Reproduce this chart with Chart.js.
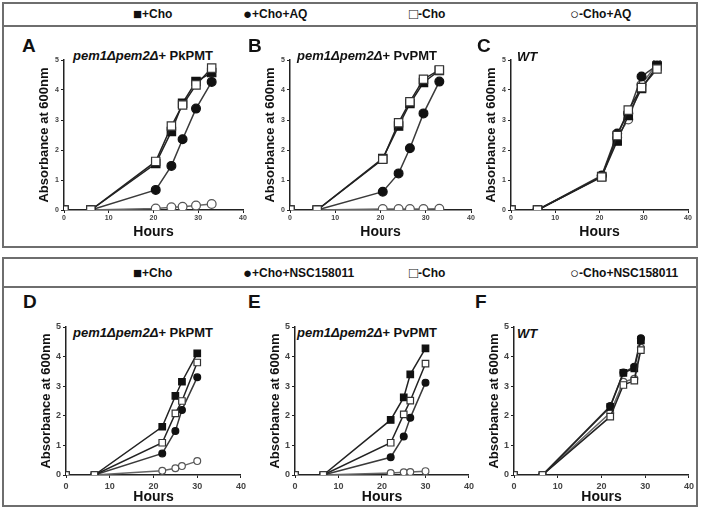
<!DOCTYPE html>
<html>
<head>
<meta charset="utf-8">
<script src="https://cdn.jsdelivr.net/npm/chart.js@4.4.1/dist/chart.umd.min.js"></script>
<style>
  body { margin: 0; width: 703px; height: 511px; position: relative; background: #fff; overflow: hidden;
         font-family: "Liberation Sans", Arial, sans-serif; color: #111; }
  .caixa { position: absolute; left: 2px; width: 696px; border: 2px solid #6e6e6e; box-sizing: border-box; }
  .linha { position: absolute; left: 2px; width: 696px; height: 2px; background: #6e6e6e; }
  .leg { position: absolute; font-size: 12px; font-weight: bold; line-height: 14px; white-space: nowrap; }
  .leg span { font-size: 15px; line-height: 14px; vertical-align: -1px; }
  .letra { position: absolute; font-size: 19px; font-weight: bold; line-height: 19px; }
  .titulo { position: absolute; font-size: 13px; font-weight: bold; line-height: 14px; white-space: nowrap; }
  canvas { position: absolute; }
</style>
</head>
<body>
<div class="caixa" style="top:2px;height:246px"></div>
<div class="linha" style="top:25px"></div>
<div class="caixa" style="top:257px;height:250px"></div>
<div class="linha" style="top:286px"></div>

<script>
// legendas
const legendaTopo = ["+Cho", "+Cho+AQ", "-Cho", "-Cho+AQ"];
const legendaBaixo = ["+Cho", "+Cho+NSC158011", "-Cho", "-Cho+NSC158011"];
const simbolos = ["\u25A0", "\u25CF", "\u25A1", "\u25CB"];

// títulos dos painéis
const tituloPk = ["pem1\u0394pem2\u0394", "+ PkPMT"];
const tituloPv = ["pem1\u0394pem2\u0394", "+ PvPMT"];
const tituloWT = ["WT", ""];

// tempos (horas)
const horasTopo = [0, 6, 20.5, 24, 26.5, 29.5, 33];
const horasBaixo = [0, 6.5, 22, 25, 26.5, 30];
const horasF = [0, 6.5, 22, 25, 27.5, 29];

// painel A
const aMaisCho = [0, 0, 1.55, 2.62, 3.56, 4.28, 4.58];
const aMaisChoAQ = [0, 0, 0.67, 1.47, 2.36, 3.38, 4.27];
const aMenosCho = [0, 0, 1.62, 2.8, 3.5, 4.17, 4.73];
const aMenosChoAQ = [0, 0, 0.05, 0.09, 0.11, 0.15, 0.2];
// painel B
const bMaisCho = [0, 0, 1.72, 2.8, 3.55, 4.25, 4.65];
const bMaisChoAQ = [0, 0, 0.61, 1.22, 2.06, 3.22, 4.28];
const bMenosCho = [0, 0, 1.69, 2.91, 3.61, 4.36, 4.67];
const bMenosChoAQ = [0, 0, 0.03, 0.03, 0.03, 0.03, 0.04];
// painel C
const cMaisCho = [0, 0, 1.12, 2.3, 3.15, 4.05, 4.8];
const cMaisChoAQ = [0, 0, 1.15, 2.55, 3.22, 4.45, 4.82];
const cMenosCho = [0, 0, 1.1, 2.48, 3.33, 4.08, 4.7];
const cMenosChoAQ = [0, 0, 1.13, 2.42, 3.02, 4.18, 4.88];
// painel D
const dMaisCho = [0, 0, 1.63, 2.67, 3.15, 4.11];
const dMaisChoNSC = [0, 0, 0.73, 1.49, 2.2, 3.3];
const dMenosCho = [0, 0, 1.09, 2.08, 2.5, 3.8];
const dMenosChoNSC = [0, 0, 0.14, 0.23, 0.3, 0.47];
// painel E
const eMaisCho = [0, 0, 1.86, 2.62, 3.4, 4.28];
const eMaisChoNSC = [0, 0, 0.6, 1.3, 1.93, 3.12];
const eMenosCho = [0, 0, 1.09, 2.05, 2.51, 3.76];
const eMenosChoNSC = [0, 0, 0.07, 0.09, 0.1, 0.13];
// painel F
const fMaisCho = [0, 0, 2.3, 3.45, 3.6, 4.55];
const fMaisChoNSC = [0, 0, 2.33, 3.46, 3.66, 4.62];
const fMenosCho = [0, 0, 1.97, 3.04, 3.19, 4.22];
const fMenosChoNSC = [0, 0, 2.1, 3.15, 3.25, 4.3];

const estilos = [
  { ponto: "rect", fundo: "#111", borda: "#111", linha: "#222", ordem: 1 },
  { ponto: "circle", fundo: "#111", borda: "#111", linha: "#3a3a3a", ordem: 2 },
  { ponto: "rect", fundo: "#fff", borda: "#333", linha: "#222", ordem: 0 },
  { ponto: "circle", fundo: "#fff", borda: "#555", linha: "#666", ordem: 3 }
];

const Y_W = 27, PAD_T = 8, PAD_R = 8, X_H = 33;

const paineis = [
  { letra: "A", titulo: tituloPk, nomes: legendaTopo, horas: horasTopo, series: [aMaisCho, aMaisChoAQ, aMenosCho, aMenosChoAQ],
    l: 64, r: 243, t: 60, b: 210, lx: 22, ly: 36, tx: 73, ty: 49, tick: 7, rq: 5.9, rc: 4.4 },
  { letra: "B", titulo: tituloPv, nomes: legendaTopo, horas: horasTopo, series: [bMaisCho, bMaisChoAQ, bMenosCho, bMenosChoAQ],
    l: 290, r: 471, t: 60, b: 210, lx: 248, ly: 36, tx: 297, ty: 49, tick: 7, rq: 5.9, rc: 4.4 },
  { letra: "C", titulo: tituloWT, nomes: legendaTopo, horas: horasTopo, series: [cMaisCho, cMaisChoAQ, cMenosCho, cMenosChoAQ],
    l: 511, r: 688, t: 60, b: 210, lx: 477, ly: 36, tx: 517, ty: 50, tick: 7, rq: 5.9, rc: 4.4 },
  { letra: "D", titulo: tituloPk, nomes: legendaBaixo, horas: horasBaixo, series: [dMaisCho, dMaisChoNSC, dMenosCho, dMenosChoNSC],
    l: 66, r: 241, t: 327, b: 475, lx: 23, ly: 292, tx: 73, ty: 326, tick: 9, rq: 4.6, rc: 3.4 },
  { letra: "E", titulo: tituloPv, nomes: legendaBaixo, horas: horasBaixo, series: [eMaisCho, eMaisChoNSC, eMenosCho, eMenosChoNSC],
    l: 295, r: 469, t: 327, b: 475, lx: 248, ly: 292, tx: 297, ty: 326, tick: 9, rq: 4.6, rc: 3.4 },
  { letra: "F", titulo: tituloWT, nomes: legendaBaixo, horas: horasF, series: [fMaisCho, fMaisChoNSC, fMenosCho, fMenosChoNSC],
    l: 514, r: 689, t: 327, b: 475, lx: 475, ly: 292, tx: 517, ty: 327, tick: 9, rq: 4.6, rc: 3.4 }
];

function addTexto(classe, html, x, y) {
  const d = document.createElement("div");
  d.className = classe;
  d.innerHTML = html;
  d.style.left = x + "px";
  d.style.top = y + "px";
  document.body.appendChild(d);
}

const legX = [133, 243, 409, 570];
legendaTopo.forEach((t, i) => addTexto("leg", "<span>" + simbolos[i] + "</span>" + t, legX[i], 7));
legendaBaixo.forEach((t, i) => addTexto("leg", "<span>" + simbolos[i] + "</span>" + t, legX[i], 266));

function criarPainel(p) {
  addTexto("letra", p.letra, p.lx, p.ly);
  addTexto("titulo", "<i>" + p.titulo[0] + "</i>" + p.titulo[1], p.tx, p.ty);

  const cv = document.createElement("canvas");
  cv.width = p.r - p.l + Y_W + PAD_R;
  cv.height = p.b - p.t + PAD_T + X_H;
  cv.style.left = (p.l - Y_W) + "px";
  cv.style.top = (p.t - PAD_T) + "px";
  document.body.appendChild(cv);

  const datasets = p.series.map((vals, i) => {
    const e = estilos[i];
    return {
      label: p.nomes[i],
      data: vals.map((v, k) => ({ x: p.horas[k], y: v })),
      borderColor: e.linha,
      borderWidth: 1.5,
      pointStyle: e.ponto,
      pointRadius: e.ponto === "rect" ? p.rq : p.rc,
      pointBackgroundColor: e.fundo,
      pointBorderColor: e.borda,
      pointBorderWidth: 1.2,
      order: e.ordem,
      tension: 0
    };
  });

  new Chart(cv, {
    type: "line",
    data: { datasets },
    options: {
      responsive: false,
      animation: false,
      events: [],
      layout: { padding: { top: PAD_T, right: PAD_R, left: 0, bottom: 0 } },
      plugins: { legend: { display: false }, tooltip: { enabled: false } },
      scales: {
        x: {
          type: "linear", min: 0, max: 40,
          afterFit: s => { s.height = X_H; },
          ticks: { stepSize: 10, color: "#444", padding: p.tick > 8 ? 3 : 1,
                   font: { family: "'Liberation Sans', Arial", size: p.tick, weight: "bold" } },
          grid: { drawOnChartArea: false, color: "#222", tickLength: 3 },
          border: { color: "#222", width: 1.5 },
          title: { display: true, text: "Hours", color: "#111", padding: { top: 0, bottom: 2 },
                   font: { family: "'Liberation Sans', Arial", size: 14, weight: "bold" } }
        },
        y: {
          min: 0, max: 5,
          afterFit: s => { s.width = Y_W; },
          ticks: { stepSize: 1, color: "#444", padding: 2,
                   font: { family: "'Liberation Sans', Arial", size: p.tick, weight: "bold" } },
          grid: { drawOnChartArea: false, color: "#222", tickLength: 3 },
          border: { color: "#222", width: 1.5 },
          title: { display: true, text: "Absorbance at 600nm", color: "#111", padding: { top: 0, bottom: 0 },
                   font: { family: "'Liberation Sans', Arial", size: 13, weight: "bold" } }
        }
      }
    }
  });
}

paineis.forEach(criarPainel);
</script>
</body>
</html>
